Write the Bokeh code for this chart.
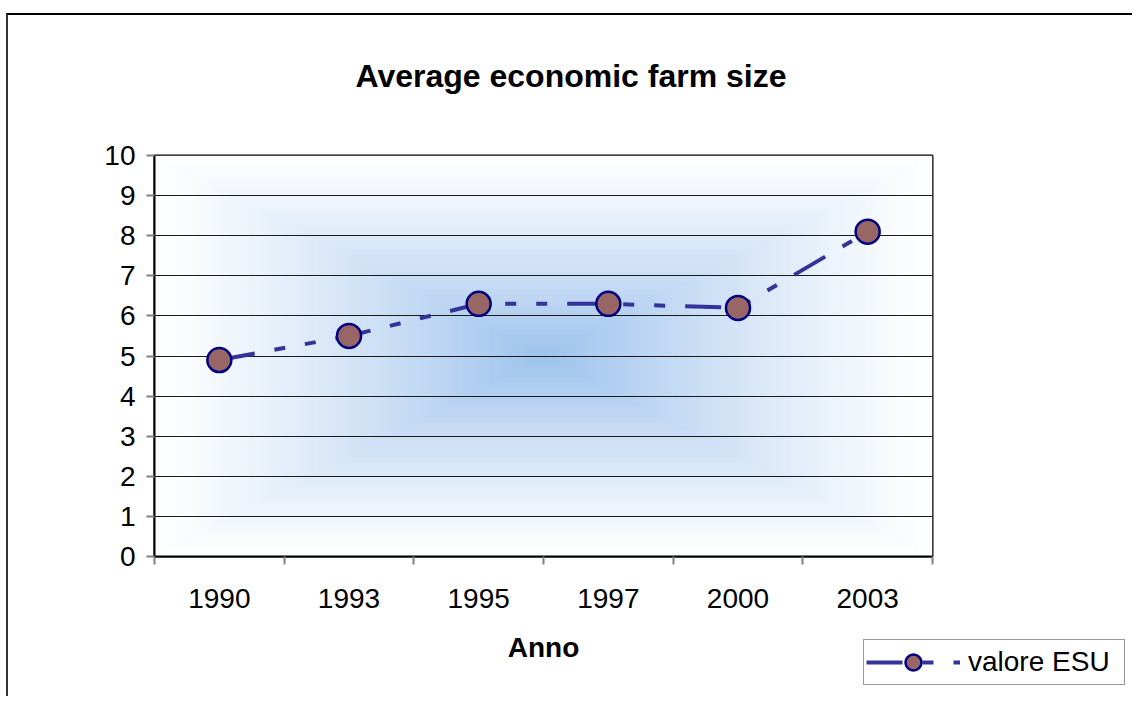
import numpy as np
from bokeh.plotting import figure
from bokeh.models import Range1d, FixedTicker, Legend, LegendItem, Title
from bokeh.embed import file_html
from bokeh.resources import INLINE

# ---- data ----
years = ["1990", "1993", "1995", "1997", "2000", "2003"]
valore_esu = [4.9, 5.5, 6.3, 6.3, 6.2, 8.1]
y_ticks = [0, 1, 2, 3, 4, 5, 6, 7, 8, 9, 10]
title_text = "Average economic farm size"
x_title = "Anno"
series_name = "valore ESU"

FONT = "Liberation Sans"
LINE_COLOR = "#333399"
LINE_DASH = "36 20 11 20 11 20"
MARK_FILL = "#996666"
MARK_LINE = "#000080"

n = len(years)
xs = [i + 0.5 for i in range(n)]

p = figure(width=1126, height=683,
           x_range=Range1d(0, n), y_range=Range1d(0, 10),
           output_backend="svg", toolbar_location=None,
           min_border_left=146, min_border_right=202,
           min_border_top=140, min_border_bottom=142)
p.title_location = None
p.styles = {"border-top": "2px solid #000000", "border-left": "2px solid #333333",
            "margin-top": "13px", "margin-left": "6px"}
p.background_fill_color = "white"
p.border_fill_color = "white"
p.outline_line_color = "black"
p.outline_line_width = 2

# background gradient (rectangular, from centre)
H, W = 300, 400
v = np.abs(np.linspace(-1, 1, H))[:, None]
u = np.abs(np.linspace(-1, 1, W))[None, :]
t = np.maximum(u, v)
f = (1.0 - t) ** 1.2
center = np.array([158, 195, 237], dtype=float)
edge = np.array([255, 255, 255], dtype=float)
rgb = edge[None, None, :] + (center - edge)[None, None, :] * f[..., None]
img = np.empty((H, W), dtype=np.uint32)
view = img.view(dtype=np.uint8).reshape((H, W, 4))
view[..., :3] = np.clip(rgb, 0, 255).astype(np.uint8)
view[..., 3] = 255
bg = p.image_rgba(image=[img], x=0, y=0, dw=n, dh=10)
bg.level = "image"

# grid
p.xgrid.visible = False
p.ygrid.ticker = FixedTicker(ticks=y_ticks)
p.ygrid.grid_line_color = "#1a1a1a"
p.ygrid.grid_line_width = 1

# series
line_r = p.line(xs, valore_esu, line_color=LINE_COLOR, line_width=4, line_dash=LINE_DASH)
sc_r = p.scatter(xs, valore_esu, size=24, fill_color=MARK_FILL,
                 line_color=MARK_LINE, line_width=2.5)

# y axis
ya = p.yaxis[0]
ya.ticker = FixedTicker(ticks=y_ticks)
ya.major_label_text_font = FONT
ya.major_label_text_font_size = "28px"
ya.major_label_text_color = "black"
ya.major_tick_in = 0
ya.major_tick_out = 8
ya.major_tick_line_color = "#808080"
ya.major_tick_line_width = 2
ya.minor_tick_line_color = None
ya.axis_line_color = "black"
ya.axis_line_width = 2
ya.major_label_standoff = 11

# x axis
xa = p.xaxis[0]
xa.ticker = FixedTicker(ticks=xs, minor_ticks=list(range(n + 1)))
xa.major_label_overrides = {x: y for x, y in zip(xs, years)}
xa.major_label_text_font = FONT
xa.major_label_text_font_size = "28px"
xa.major_label_text_color = "black"
xa.major_tick_in = 0
xa.major_tick_out = 0
xa.minor_tick_in = 0
xa.minor_tick_out = 8
xa.minor_tick_line_color = "#808080"
xa.minor_tick_line_width = 2
xa.axis_line_color = "black"
xa.axis_line_width = 2
xa.major_label_standoff = 24
xa.axis_label = x_title
xa.axis_label_text_font = FONT
xa.axis_label_text_font_size = "28px"
xa.axis_label_text_font_style = "bold"
xa.axis_label_text_color = "black"
xa.axis_label_standoff = 21

# title: a small spacer next to the frame, then the real title above it
spacer = Title(text=" ", text_font_size="10px", standoff=49)
p.add_layout(spacer, "above")
main_title = Title(text=title_text, text_font=FONT, text_font_size="32px",
                   text_font_style="bold", text_color="black",
                   align="left", offset=201, standoff=0)
p.add_layout(main_title, "above")

# legend (separate small svg figure placed over the chart area)
pl = figure(width=262, height=46, x_range=Range1d(-10, -9), y_range=Range1d(-10, -9),
            output_backend="svg", toolbar_location=None, min_border=0)
pl.styles = {"position": "absolute", "left": "863px", "top": "639px"}
pl.axis.visible = False
pl.grid.visible = False
pl.outline_line_color = None
pl.background_fill_color = "white"
pl.border_fill_color = "white"
l2 = pl.line(xs, valore_esu, line_color=LINE_COLOR, line_width=4, line_dash=LINE_DASH)
s2 = pl.scatter(xs, valore_esu, size=24, fill_color=MARK_FILL, line_color=MARK_LINE,
                line_width=2.5)
legend = Legend(items=[LegendItem(label=series_name, renderers=[l2, s2])],
                location="top_left")
legend.label_text_font = FONT
legend.label_text_font_size = "28px"
legend.label_text_color = "black"
legend.glyph_width = 94
legend.glyph_height = 40
legend.label_standoff = 8
legend.label_width = 154
legend.padding = 2
legend.spacing = 0
legend.margin = 0
legend.border_line_color = "#333333"
legend.border_line_width = 1
legend.background_fill_color = "white"
legend.background_fill_alpha = 1
pl.add_layout(legend)

open("out.html", "w").write(file_html([p, pl], INLINE))
